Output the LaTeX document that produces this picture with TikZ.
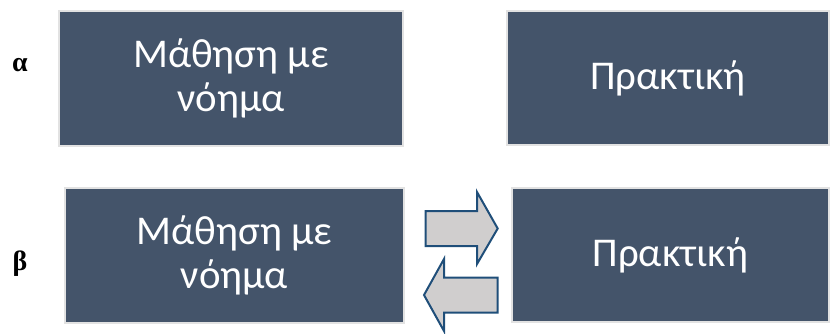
\documentclass[tikz,border=0pt]{standalone}
\usepackage{fontspec}
\setmainfont{Carlito}
\newfontfamily\lblfont{Liberation Serif}
\definecolor{boxfill}{HTML}{44546A}
\definecolor{boxedge}{HTML}{E2E2E2}
\definecolor{arrfill}{HTML}{D0CECE}
\definecolor{arredge}{HTML}{1F4E79}
\tikzset{
  card/.style={rectangle, fill=boxfill, draw=boxedge, line width=1.5bp, text=white,
    align=center, inner sep=0pt, font=\fontsize{41}{44}\selectfont},
  blockarrow/.style={fill=arrfill, draw=arredge, line width=2bp, line join=miter},
  tag/.style={font=\lblfont\bfseries\fontsize{28}{30}\selectfont, inner sep=0pt}
}
\begin{document}
\begin{tikzpicture}[x=1bp,y=-1bp]
\useasboundingbox (0,0) rectangle (830,333);
\node[card, minimum width=344bp, minimum height=135bp] (a1) at (231,78.5) {Μάθηση με\\νόημα};
\node[card, minimum width=322bp, minimum height=134bp] (a2) at (668,78) {Πρακτική};
\node[card, minimum width=339bp, minimum height=135bp] (b1) at (234.5,255.3) {Μάθηση με\\νόημα};
\node[card, minimum width=317bp, minimum height=134bp] (b2) at (670.5,255) {Πρακτική};
\node[tag] (la) at (20,65) {α};
\node[tag] (lb) at (20,264) {β};
\draw[blockarrow] (425.7,211) -- (477,211) -- (477,192) -- (497.7,228.5) -- (477,264) -- (477,246) -- (425.7,246) -- cycle;
\draw[blockarrow] (497.7,277.7) -- (444,277.7) -- (444,259) -- (424,295) -- (444,331) -- (444,312.7) -- (497.7,312.7) -- cycle;
\end{tikzpicture}
\end{document}
